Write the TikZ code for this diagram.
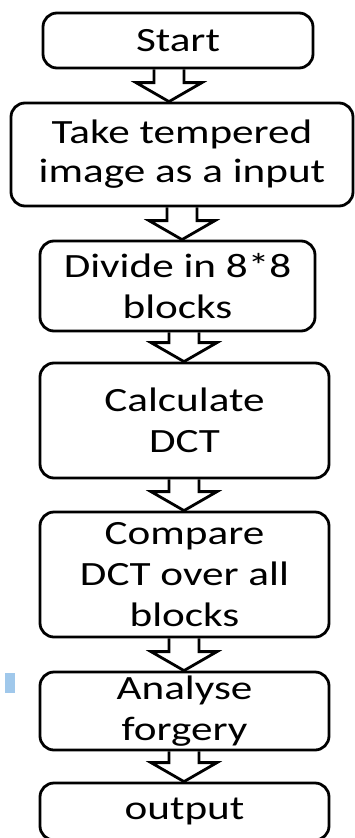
\documentclass[tikz,border=0pt]{standalone}
\usepackage{fontspec}
\setmainfont{Carlito}[FakeStretch=1.27]
\usetikzlibrary{calc}
\definecolor{handle}{RGB}{160,200,235}

\tikzset{
  stepbox/.style={draw, line width=2.8pt, rounded corners=14pt, align=center,
    inner sep=0pt, font=\fontsize{34}{41}\selectfont},
  barrow/.style={draw, line width=2.8pt, line join=miter}
}
% hollow block arrow from #1 down to #2, on the vertical through #3
\newcommand{\blockarrow}[3]{%
  \path let \p1=(#1.south), \p2=(#2.north), \p3=(#3) in
    [barrow] (\x3-15pt,\y1) -- (\x3-15pt,\y2+19pt) -- (\x3-33pt,\y2+19pt)
    -- (\x3,\y2) -- (\x3+33pt,\y2+19pt) -- (\x3+15pt,\y2+19pt) -- (\x3+15pt,\y1);}

\begin{document}
\begin{tikzpicture}[x=1pt,y=-1pt]
  \useasboundingbox (0,0) rectangle (355,838);
  \clip (0,0) rectangle (355,838);

  \node[stepbox, minimum width=270pt, minimum height=55pt] (start) at (178,40.5) {Start};
  \node[stepbox, minimum width=342pt, minimum height=103pt,
        font=\fontsize{34}{39}\selectfont] (take) at (182,154.5) {Take tempered\\image as a input};
  \node[stepbox, minimum width=275pt, minimum height=90pt] (divide) at (177.5,286) {Divide in 8*8\\blocks};
  \node[stepbox, minimum width=289pt, minimum height=115pt] (dct) at (184.5,420.5) {Calculate\\DCT};
  \node[stepbox, minimum width=289pt, minimum height=125pt] (compare) at (184.5,574.5) {Compare\\DCT over all\\blocks};
  \node[stepbox, minimum width=289pt, minimum height=78pt] (analyse) at (184.5,711) {Analyse\\forgery};
  \node[stepbox, minimum width=289pt, minimum height=57pt] (output) at (184.5,811.5) {output};

  \coordinate (axisA) at (169,0);
  \coordinate (axisB) at (182,0);
  \coordinate (axis) at (184,0);

  \blockarrow{start}{take}{axisA}
  \blockarrow{take}{divide}{axisB}
  \blockarrow{divide}{dct}{axis}
  \blockarrow{dct}{compare}{axis}
  \blockarrow{compare}{analyse}{axis}
  \blockarrow{analyse}{output}{axis}

  \fill[handle] (5,673) rectangle (15,693);
\end{tikzpicture}
\end{document}
